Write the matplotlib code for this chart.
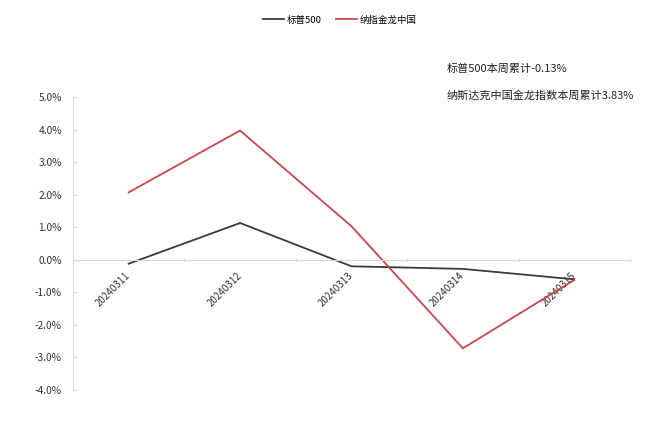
import matplotlib
matplotlib.use('Agg')
import matplotlib.pyplot as plt

plt.rcParams['font.family'] = ['Noto Sans CJK SC', 'DejaVu Sans']

dates = ['20240311', '20240312', '20240313', '20240314', '20240315']
sp500 = [-0.12, 1.13, -0.20, -0.28, -0.60]
nasdaq_cn = [2.07, 3.97, 1.03, -2.72, -0.62]
yticks = [5, 4, 3, 2, 1, 0, -1, -2, -3, -4]

fig = plt.figure(figsize=(6.6, 4.21), dpi=100)
ax = fig.add_axes([0.1106, 0.0736, 0.8439, 0.696])

x = range(len(dates))
ax.plot(x, sp500, color='#3a3a3a', lw=1.3, label='标普500')
ax.plot(x, nasdaq_cn, color='#c8474b', lw=1.3, label='纳指金龙中国')

ax.set_xlim(-0.5, len(dates) - 0.5)
ax.set_ylim(-4, 5)
ax.set_yticks(yticks)
ax.set_yticklabels(['%.1f%%' % v for v in yticks], fontsize=7.3, color='#333333',
                   fontweight='medium')

# x axis sits on zero, labels rotated
ax.spines['bottom'].set_position(('data', 0))
ax.spines['bottom'].set_color('#d9d9d9')
ax.spines['left'].set_color('#d9d9d9')
ax.spines['top'].set_visible(False)
ax.spines['right'].set_visible(False)
ax.set_xticks(list(x))
ax.set_xticklabels(dates, rotation=45, fontsize=7, color='#333333', fontweight='medium',
                   ha='right', va='center', rotation_mode='anchor')
ax.tick_params(axis='x', length=0, pad=10)
ax.set_xticks([i - 0.5 for i in range(len(dates) + 1)], minor=True)
ax.tick_params(axis='x', which='minor', length=3, color='#d9d9d9', direction='inout')
ax.tick_params(axis='y', length=3, color='#d9d9d9', direction='in', pad=8)

fig.legend(loc='center', bbox_to_anchor=(0.515, 0.952), ncol=2, frameon=False,
           prop={'size': 6.8, 'weight': 'medium'},
           handlelength=2.2, handletextpad=0.3, columnspacing=1.5)

fig.text(0.677, 0.828, '标普500本周累计-0.13%', fontsize=8, color='#222222',
         fontweight='medium')
fig.text(0.677, 0.765, '纳斯达克中国金龙指数本周累计3.83%', fontsize=8, color='#222222',
         fontweight='medium')

fig.savefig('out.png', dpi=100, facecolor='white')
